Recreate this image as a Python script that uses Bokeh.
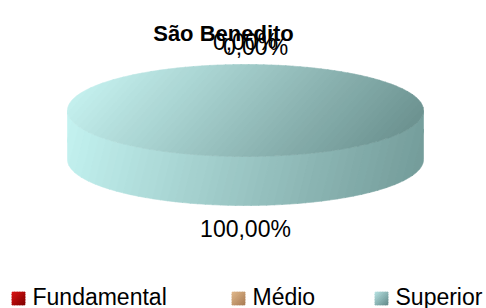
import numpy as np
from bokeh.plotting import figure
from bokeh.models import Range1d
from bokeh.core.properties import value
from bokeh.embed import file_html
from bokeh.resources import INLINE

# ---- data ----
title_text = "São Benedito"
categories = ["Fundamental", "Médio", "Superior"]
values = [0.0, 0.0, 100.0]
labels = ["0,00%", "0,00%", "100,00%"]

# ---- style ----
FONT = "Liberation Sans"
top_colors = [((230, 40, 40), (120, 0, 0)), ((235, 195, 150), (170, 125, 85)), ((196, 240, 238), (108, 146, 144))]
side_colors = [((210, 30, 30), (110, 0, 0)), ((225, 185, 140), (160, 115, 75)), ((196, 243, 241), (116, 156, 154))]
legend_colors = [((220, 20, 20), (130, 0, 0)), ((225, 185, 140), (170, 125, 85)), ((185, 228, 228), (100, 140, 140))]

W, H = 486, 308
p = figure(width=W, height=H, output_backend="svg", toolbar_location=None,
           x_range=Range1d(0, W), y_range=Range1d(H, 0),
           min_border=0, outline_line_color=None)
p.axis.visible = False
p.grid.visible = False
p.background_fill_color = "white"
p.border_fill_color = "white"

CX, CY, RX, RY, DEPTH = 245.0, 110.0, 178.0, 46.0, 49.0


def clip(pts, d, t, sign):
    out = []
    n = len(pts)
    for i in range(n):
        P = pts[i]
        Q = pts[(i + 1) % n]
        fp = sign * (P[0] * d[0] + P[1] * d[1] - t)
        fq = sign * (Q[0] * d[0] + Q[1] * d[1] - t)
        if fp >= 0:
            out.append(P)
        if (fp >= 0) != (fq >= 0):
            r = fp / (fp - fq)
            out.append((P[0] + r * (Q[0] - P[0]), P[1] + r * (Q[1] - P[1])))
    return out


def grad_fill(xs, ys, c0, c1, direction, n=48):
    d = np.array(direction, float)
    d = d / np.hypot(*d)
    pts = list(zip(xs, ys))
    proj = np.asarray(xs) * d[0] + np.asarray(ys) * d[1]
    lo, hi = proj.min(), proj.max()
    pxs, pys, cols = [], [], []
    for i in range(n):
        t0 = lo + (hi - lo) * i / n - 0.3
        t1 = lo + (hi - lo) * (i + 1) / n + 0.3
        poly = clip(pts, d, t0, 1)
        if len(poly) < 3:
            continue
        poly = clip(poly, d, t1, -1)
        if len(poly) < 3:
            continue
        f = (i + 0.5) / n
        c = tuple(int(round(a + (b - a) * f)) for a, b in zip(c0, c1))
        pxs.append([q[0] for q in poly])
        pys.append([q[1] for q in poly])
        cols.append("#%02x%02x%02x" % c)
    p.patches(pxs, pys, fill_color=cols, line_color=cols, line_width=0.6)


def ell(theta_deg, dy=0.0):
    t = np.radians(theta_deg)
    return CX + RX * np.sin(t), CY - RY * np.cos(t) + dy


total = float(sum(values))
fr = [v / total for v in values]
starts = np.concatenate([[0.0], np.cumsum(fr)[:-1]]) * 360.0
ends = np.cumsum(fr) * 360.0

# side faces (front half, 90..270 deg measured clockwise from top)
for i in range(len(values)):
    if fr[i] <= 0:
        continue
    s = max(starts[i], 90.0)
    e = min(ends[i], 270.0)
    if e <= s:
        continue
    a = np.linspace(s, e, 120)
    tx, ty = ell(a)
    bx, by = ell(a[::-1], DEPTH)
    grad_fill(list(tx) + list(bx), list(ty) + list(by), side_colors[i][0], side_colors[i][1], (1, 0.25))

# top faces
for i in range(len(values)):
    if fr[i] <= 0:
        continue
    a = np.linspace(starts[i], ends[i], 240)
    tx, ty = ell(a)
    if fr[i] < 1:
        tx = np.concatenate([[CX], tx])
        ty = np.concatenate([[CY], ty])
    grad_fill(list(tx), list(ty), top_colors[i][0], top_colors[i][1], (1, 0.9))

# data labels
OFF = 23.0
placed = []
for i in range(len(values)):
    mid = np.radians((starts[i] + ends[i]) / 2.0)
    lx = CX + (RX + OFF) * np.sin(mid)
    c = np.cos(mid)
    ly = CY - (RY + OFF) * c + (DEPTH if c < 0 else 0.0)
    for (px_, py_) in placed:
        if abs(px_ - lx) < 30 and abs(py_ - ly) < 10:
            lx += 10
            ly += 5
    placed.append((lx, ly))
    p.text([lx], [ly], text=[labels[i]], text_align="center", text_baseline="middle",
           text_font=value(FONT), text_font_size="23px", text_color="black")

# title
p.text([223], [33], text=[title_text], text_align="center", text_baseline="alphabetic",
       text_font=value(FONT), text_font_style="bold", text_font_size="22px", text_color="black")

# legend
leg_x = [18, 238, 381]
LY = 298
for i, cat in enumerate(categories):
    sx, sy = leg_x[i], LY
    qx = [sx - 6.5, sx + 6.5, sx + 6.5, sx - 6.5]
    qy = [sy - 6.5, sy - 6.5, sy + 6.5, sy + 6.5]
    grad_fill(qx, qy, legend_colors[i][0], legend_colors[i][1], (1, 1), n=10)
    p.text([sx + 14], [sy - 2], text=[cat], text_align="left", text_baseline="middle",
           text_font=value(FONT), text_font_size="23px", text_color="black")

open("out.html", "w").write(file_html(p, INLINE))
